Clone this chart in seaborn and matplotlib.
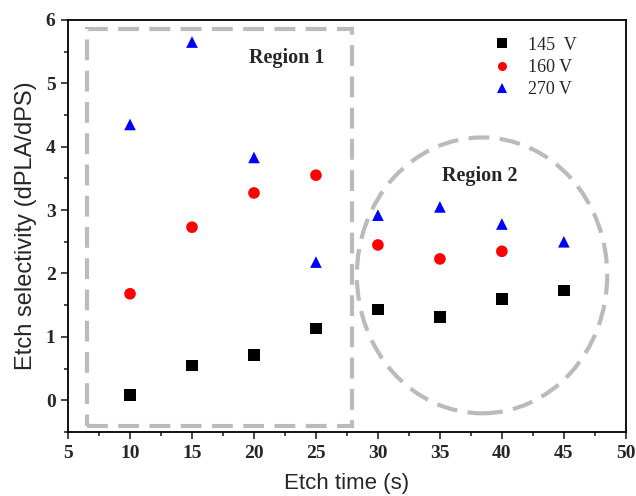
import numpy as np
import pandas as pd
import matplotlib
matplotlib.use("Agg")
import matplotlib.pyplot as plt
from matplotlib.patches import Rectangle, Ellipse
from matplotlib.ticker import MultipleLocator
import seaborn as sns

# Etch selectivity data
etch_time = [10, 15, 20, 25, 30, 35, 40, 45]
sel_145 = [0.08, 0.55, 0.71, 1.13, 1.43, 1.31, 1.60, 1.73]
sel_160 = [1.68, 2.73, 3.27, 3.55, 2.45, 2.23, 2.35]
sel_270 = [4.35, 5.65, 3.83, 2.18, 2.92, 3.05, 2.78, 2.50]
series_labels = ["145  V", "160 V", "270 V"]

frames = []
for lab, vals in zip(series_labels, [sel_145, sel_160, sel_270]):
    frames.append(pd.DataFrame({"t": etch_time[:len(vals)], "sel": vals, "bias": lab}))
df = pd.concat(frames, ignore_index=True)

sns.set_style("ticks")
plt.rcParams["font.family"] = ["Liberation Sans", "DejaVu Sans"]

fig = plt.figure(figsize=(6.36, 4.96), dpi=100)
ax = fig.add_axes([0.107, 0.129, 0.877, 0.831])

palette = {series_labels[0]: "black", series_labels[1]: "#ff0000", series_labels[2]: "#0000ff"}
markers = {series_labels[0]: "s", series_labels[1]: "o", series_labels[2]: "^"}
sns.scatterplot(data=df, x="t", y="sel", hue="bias", style="bias",
                palette=palette, markers=markers, s=70, linewidth=0,
                ax=ax, zorder=3)

# Region outlines
ax.add_patch(Rectangle((6.5, -0.4), 21.4, 6.25, fill=False, ec="#bbbbbb",
                       lw=3, ls=(0, (5, 2.5)), zorder=2))
ax.add_patch(Ellipse((38.4, 1.97), 20.2, 4.35, fill=False, ec="#bbbbbb",
                     lw=3, ls=(0, (5, 2.5)), zorder=2))
ax.text(22.6, 5.40, "Region 1", family="Liberation Serif", fontweight="bold",
        fontsize=14.5, ha="center", va="center")
ax.text(38.2, 3.54, "Region 2", family="Liberation Serif", fontweight="bold",
        fontsize=14.5, ha="center", va="center")

ax.set_xlim(5, 50)
ax.set_ylim(-0.5, 6)
ax.xaxis.set_major_locator(MultipleLocator(5))
ax.xaxis.set_minor_locator(MultipleLocator(2.5))
ax.yaxis.set_major_locator(MultipleLocator(1))
ax.yaxis.set_minor_locator(MultipleLocator(0.5))
ax.tick_params(which="major", direction="out", length=5, width=1.2, labelsize=14, pad=4)
ax.tick_params(which="minor", direction="out", length=3, width=1.2)
for lbl in ax.get_xticklabels() + ax.get_yticklabels():
    lbl.set_family("Liberation Serif")
    lbl.set_fontweight("bold")
for sp in ax.spines.values():
    sp.set_linewidth(1.3)
    sp.set_color("black")

ax.set_xlabel("Etch time (s)", fontsize=16, labelpad=8)
ax.set_ylabel("Etch selectivity (dPLA/dPS)", fontsize=17, labelpad=6)

leg = ax.legend(loc="upper right", bbox_to_anchor=(0.934, 0.99), frameon=False,
                handletextpad=0.4, labelspacing=0.3, borderaxespad=0.3,
                prop={"family": "Liberation Serif", "size": 13})
for h in leg.legend_handles:
    if hasattr(h, "set_markersize"):
        h.set_markersize(6.5)

fig.savefig("out.png", dpi=100)
